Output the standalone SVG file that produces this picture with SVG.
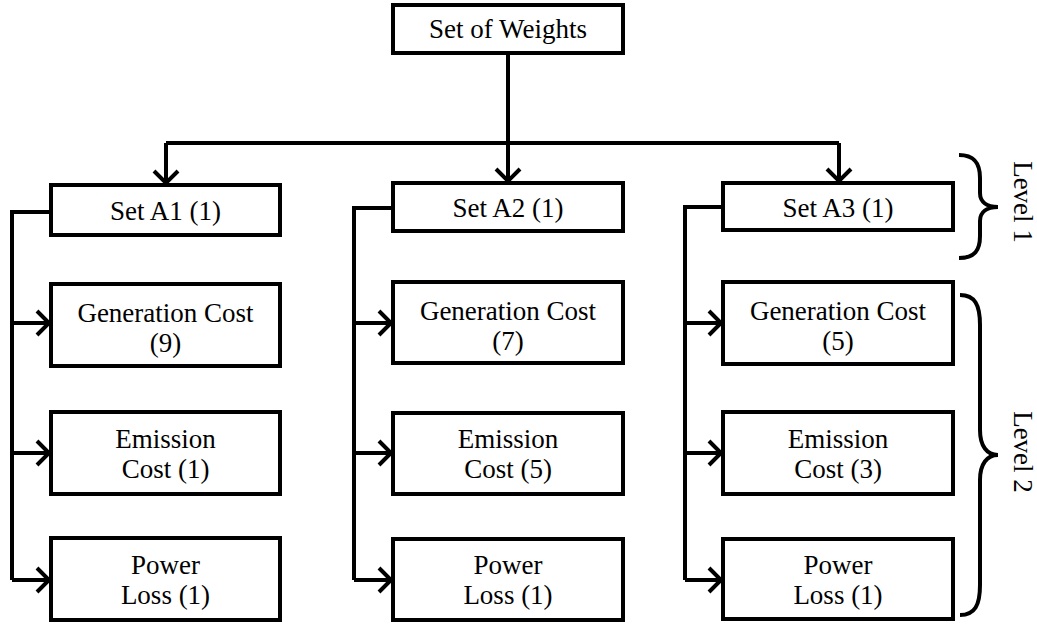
<svg xmlns="http://www.w3.org/2000/svg" width="1037" height="626" viewBox="0 0 1037 626">
<style>
.box{fill:#fff;stroke:#000;stroke-width:4}
.ln{fill:none;stroke:#000;stroke-width:4;stroke-linejoin:miter}
.t{font-family:"Liberation Serif","Times New Roman",serif;font-size:27px;fill:#000;text-anchor:middle}
</style>
<defs>
<marker id="arr" markerUnits="userSpaceOnUse" markerWidth="30" markerHeight="30" refX="15" refY="15" orient="auto" overflow="visible">
<path d="M3,3 L15,15 L3,27" fill="none" stroke="#000" stroke-width="4"/>
</marker>
</defs>
<rect width="1037" height="626" fill="#fff"/>
<g id="connectors">
<path class="ln" d="M508,53 V143"/>
<path class="ln" d="M166,143 H839"/>
<path class="ln" d="M166,143 V183" marker-end="url(#arr)"/>
<path class="ln" d="M508,143 V181" marker-end="url(#arr)"/>
<path class="ln" d="M839,143 V181" marker-end="url(#arr)"/>
<path class="ln" d="M51,212 H12 V580"/>
<path class="ln" d="M12,323 H49" marker-end="url(#arr)"/>
<path class="ln" d="M12,453 H49" marker-end="url(#arr)"/>
<path class="ln" d="M12,580 H49" marker-end="url(#arr)"/>
<path class="ln" d="M393,208 H354 V580"/>
<path class="ln" d="M354,323 H391" marker-end="url(#arr)"/>
<path class="ln" d="M354,453 H391" marker-end="url(#arr)"/>
<path class="ln" d="M354,580 H391" marker-end="url(#arr)"/>
<path class="ln" d="M723,207 H685 V580"/>
<path class="ln" d="M685,323 H721" marker-end="url(#arr)"/>
<path class="ln" d="M685,453 H721" marker-end="url(#arr)"/>
<path class="ln" d="M685,580 H721" marker-end="url(#arr)"/>
</g>
<g id="root"><rect class="box" x="393" y="5" width="230" height="48"/><text class="t" x="508" y="38">Set of Weights</text></g>
<g id="a1"><rect class="box" x="51" y="185" width="229" height="50"/><text class="t" x="165.5" y="220">Set A1 (1)</text></g>
<g id="a1-gen"><rect class="box" x="51" y="284" width="229" height="82"/><text class="t" x="165.5" y="322">Generation Cost</text><text class="t" x="165.5" y="352">(9)</text></g>
<g id="a1-em"><rect class="box" x="51" y="412" width="229" height="82"/><text class="t" x="165.5" y="448">Emission</text><text class="t" x="165.5" y="478">Cost (1)</text></g>
<g id="a1-pl"><rect class="box" x="51" y="538" width="229" height="82"/><text class="t" x="165.5" y="574">Power</text><text class="t" x="165.5" y="604">Loss (1)</text></g>
<g id="a2"><rect class="box" x="393" y="183" width="230" height="48"/><text class="t" x="508" y="217">Set A2 (1)</text></g>
<g id="a2-gen"><rect class="box" x="393" y="282" width="230" height="81"/><text class="t" x="508" y="320">Generation Cost</text><text class="t" x="508" y="350">(7)</text></g>
<g id="a2-em"><rect class="box" x="393" y="413" width="230" height="81"/><text class="t" x="508" y="448">Emission</text><text class="t" x="508" y="478">Cost (5)</text></g>
<g id="a2-pl"><rect class="box" x="393" y="539" width="230" height="81"/><text class="t" x="508" y="574">Power</text><text class="t" x="508" y="604">Loss (1)</text></g>
<g id="a3"><rect class="box" x="723" y="183" width="230" height="47"/><text class="t" x="838" y="217">Set A3 (1)</text></g>
<g id="a3-gen"><rect class="box" x="723" y="282" width="230" height="82"/><text class="t" x="838" y="320">Generation Cost</text><text class="t" x="838" y="350">(5)</text></g>
<g id="a3-em"><rect class="box" x="723" y="412" width="230" height="82"/><text class="t" x="838" y="448">Emission</text><text class="t" x="838" y="478">Cost (3)</text></g>
<g id="a3-pl"><rect class="box" x="723" y="539" width="230" height="80"/><text class="t" x="838" y="574">Power</text><text class="t" x="838" y="604">Loss (1)</text></g>
<g id="level1">
<path class="ln" d="M959,155 C975,155 980,164 980,178 L980,193 C980,202 987,207 998,207 C987,207 980,212 980,221 L980,236 C980,250 975,258 959,258"/>
<text class="t" transform="translate(1014,202) rotate(90)">Level 1</text>
</g>
<g id="level2">
<path class="ln" d="M960,295 C975,295 980,305 980,325 L980,430 C980,446 987,455 998,455 C987,455 980,464 980,480 L980,585 C980,605 975,615 960,615"/>
<text class="t" transform="translate(1014,452) rotate(90)">Level 2</text>
</g>
</svg>
